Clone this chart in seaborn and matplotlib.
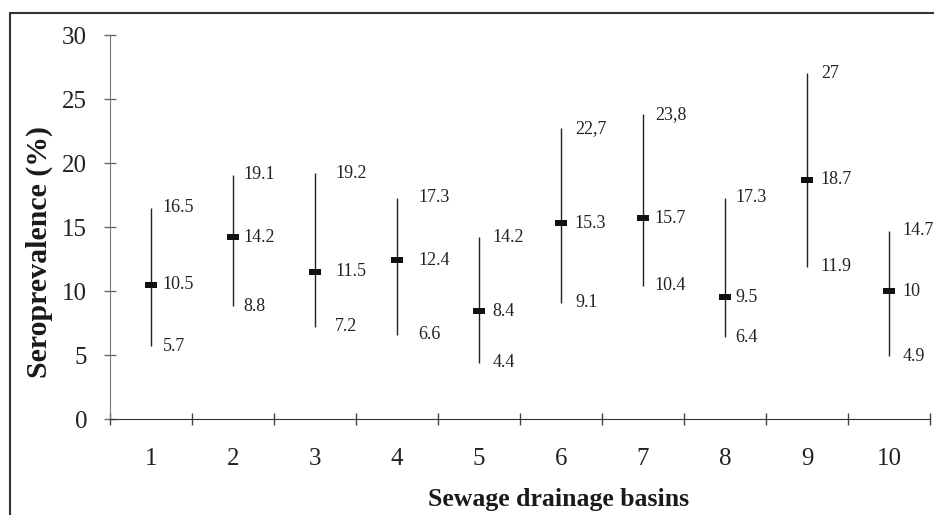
import numpy             as np
import pandas            as pd
import matplotlib.pyplot as plt
import seaborn           as sns
from matplotlib.patches import Rectangle

# ---- data ----
basins       = [1, 2, 3, 4, 5, 6, 7, 8, 9, 10]
prevalence   = [10.5, 14.2, 11.5, 12.4, 8.4, 15.3, 15.7, 9.5, 18.7, 10.0]
ci_lower     = [5.7, 8.8, 7.2, 6.6, 4.4, 9.1, 10.4, 6.4, 11.9, 4.9]
ci_upper     = [16.5, 19.1, 19.2, 17.3, 14.2, 22.7, 23.8, 17.3, 27.0, 14.7]
prev_labels  = ['10.5', '14.2', '11.5', '12.4', '8.4', '15.3', '15.7', '9.5', '18.7', '10']
lower_labels = ['5.7', '8.8', '7.2', '6.6', '4.4', '9.1', '10.4', '6.4', '11.9', '4.9']
upper_labels = ['16.5', '19.1', '19.2', '17.3', '14.2', '22,7', '23,8', '17.3', '27', '14.7']
y_ticks      = [0, 5, 10, 15, 20, 25, 30]

# horizontal gap (points) between each interval and its labels
label_dx     = [8.5, 7.5, 14.5, 15.5, 9.5, 10, 8.5, 7.5, 10, 10]

df = pd.DataFrame({'basin': basins, 'prev': prevalence,
                   'low': ci_lower, 'up': ci_upper})

sns.set_style('ticks')
plt.rcParams['font.family'] = ['Liberation Serif', 'DejaVu Serif']

fig = plt.figure(figsize = (9.34, 5.15), dpi = 100)
ax  = fig.add_axes([110/934, 1 - 419/515, 820/934, 384/515])

# confidence intervals
ax.vlines(df['basin'], df['low'], df['up'], color = '#222222', linewidth = 1.0)

# point estimates as small black bars
bar_marker = [(-1, -0.58), (1, -0.58), (1, 0.58), (-1, 0.58), (-1, -0.58)]
sns.scatterplot(data = df, x = 'basin', y = 'prev', ax = ax, marker = bar_marker,
                s = 75, color = '#111111', edgecolor = '#111111', linewidth = 0,
                zorder = 3, legend = False)

# value labels
for i in range(len(basins)):
    for val, txt in [(ci_upper[i], upper_labels[i]),
                     (prevalence[i], prev_labels[i]),
                     (ci_lower[i], lower_labels[i])]:
        ax.annotate(txt, (basins[i], val), xytext = (label_dx[i], 0),
                    textcoords = 'offset points', ha = 'left', va = 'center',
                    fontsize = 13, color = '#222222')

ax.set_xlim(0.5, 10.5)
ax.set_ylim(0, 30)
ax.set_yticks(y_ticks)
ax.set_yticklabels([str(t) for t in y_ticks], fontsize = 18, color = '#222222')

# ticks at category boundaries, labels at category centres
ax.set_xticks(np.arange(0.5, 11.0, 1.0))
ax.set_xticklabels([])
ax.set_xticks(basins, minor = True)
ax.set_xticklabels([str(b) for b in basins], minor = True, fontsize = 18, color = '#222222')
ax.tick_params(axis = 'x', which = 'major', direction = 'inout', length = 9,
               width = 1, color = '#444444')
ax.tick_params(axis = 'x', which = 'minor', length = 0, pad = 21)
ax.tick_params(axis = 'y', direction = 'inout', length = 9, width = 1,
               color = '#666666', pad = 12)

sns.despine(ax = ax)
ax.spines['left'].set_color('#777777')
ax.spines['bottom'].set_color('#333333')

ax.set_ylabel('Seroprevalence (%)', fontsize = 21.5, fontweight = 'bold', color = '#1a1a1a')
ax.set_xlabel('Sewage drainage basins', fontsize = 18.5, fontweight = 'bold', color = '#1a1a1a')
ax.yaxis.set_label_coords(-57/820, (419 - 252)/384)
ax.xaxis.set_label_coords((559 - 110)/820, -69/384)

# outer frame (right and bottom edges fall outside the picture)
fig.patches.append(Rectangle((10/934, -0.2), 1.2, 1.2 - 12.5/515,
                             transform = fig.transFigure, fill = False,
                             edgecolor = '#333333', linewidth = 1.5))

plt.savefig('out.png', dpi = 100)
